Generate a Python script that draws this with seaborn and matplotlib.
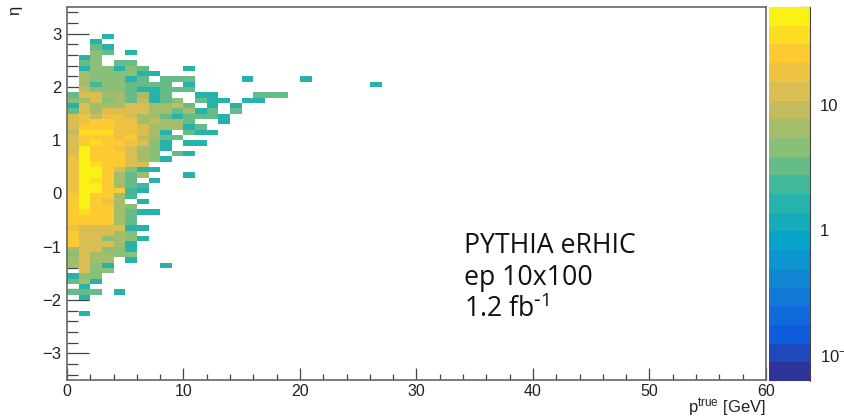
import matplotlib
matplotlib.use("Agg")
import matplotlib.pyplot as plt
from matplotlib.colors import LinearSegmentedColormap, ListedColormap, LogNorm
import numpy as np
import pandas as pd
import seaborn as sns

# ROOT "bird" palette
bird_colors = [
    (0.2082, 0.1664, 0.5293), (0.0592, 0.3599, 0.8684), (0.0780, 0.5041, 0.8385),
    (0.0232, 0.6419, 0.7914), (0.1802, 0.7178, 0.6425), (0.5301, 0.7492, 0.4662),
    (0.8186, 0.7328, 0.3499), (0.9956, 0.7862, 0.1968), (0.9764, 0.9832, 0.0539),
]

# lower edge of each eta row, in tenths, top to bottom
eta_rows = list(range(29, -24, -1))

# counts per 1 GeV pT bin, starting at pT = 0
counts = [
    [0, 0, 0, 1.5],
    [0, 0, 1.5],
    [0, 0, 3, 1.5],
    [0, 0, 4, 3, 0, 1.5],
    [0, 1.5, 4],
    [0, 3, 4, 0, 3, 3],
    [0, 1.5, 5, 4, 1.5, 4, 3, 0, 0, 0, 1.5],
    [0, 6, 4, 4, 4, 4, 1.5, 1.5],
    [0, 6, 4, 5, 5, 1.5, 3, 0, 3, 3, 3, 0, 0, 0, 0, 1.5, 0, 0, 0, 0, 1.5],
    [0, 6, 2, 5, 5, 3, 3, 3, 3, 0, 1.5, 0, 0, 0, 0, 0, 0, 0, 0, 0, 0, 0, 0, 0, 0, 0, 1.5],
    [0, 9, 5, 4, 5, 3, 1.5, 1.5, 3, 3, 3],
    [3, 11, 11, 6, 7, 3, 6, 1.5, 3, 0, 0, 1.5, 1.5, 0, 0, 0, 3, 3, 3],
    [5, 6, 11, 4, 6, 3, 10, 1.5, 3, 5, 0, 3, 1.5, 1.5, 0, 1.5, 1.5],
    [1.5, 11, 7, 6, 7, 12, 11, 6, 6, 9, 3, 0, 1.5, 0, 1.5],
    [3, 11, 6, 11, 12, 12, 12, 7, 7, 3, 6, 1.5, 3, 0, 3],
    [11, 18, 10, 18, 18, 12, 7, 6, 3, 1.5, 3, 3, 3, 1.5],
    [11, 18, 22, 22, 18, 18, 7, 10, 6, 6, 3, 0, 0, 1.5],
    [11, 22, 22, 22, 18, 18, 11, 7, 6, 6, 1.5, 3],
    [10, 32, 32, 32, 20, 20, 11, 7, 1.5, 0, 3, 1.5, 1.5],
    [11, 25, 30, 25, 20, 22, 10, 7, 3, 3],
    [12, 30, 32, 25, 22, 20, 11, 4, 1.5, 0, 1.5, 1.5],
    [15, 45, 28, 25, 20, 15, 7, 4, 1.5],
    [15, 55, 30, 25, 22, 13, 7, 4, 0, 3, 1.5],
    [20, 55, 30, 25, 22, 15, 7, 5, 1.5],
    [20, 55, 40, 28, 25, 15, 12],
    [20, 55, 50, 28, 15, 5, 1.5, 1.5],
    [20, 55, 50, 28, 7, 3, 7, 0, 0, 0, 1.5],
    [20, 48, 40, 28, 7, 3, 0, 1.5],
    [20, 55, 55, 30, 7, 3, 2],
    [20, 55, 50, 25, 25, 2, 1.5],
    [22, 55, 30, 25, 6, 2],
    [22, 50, 28, 18, 6, 0, 1.5],
    [22, 48, 30, 22, 6, 4],
    [25, 32, 30, 25, 6, 3, 1.5, 1.5],
    [25, 28, 25, 25, 7, 3],
    [22, 25, 25, 22, 7, 3],
    [18, 15, 15, 15, 13, 1.5, 1.5],
    [22, 15, 15, 12, 7, 4],
    [22, 14, 14, 5, 6, 5, 1.5],
    [22, 14, 13, 12, 6, 1.5],
    [6, 12, 12, 5, 4, 1.5],
    [4, 12, 7, 7, 4, 5],
    [6, 12, 6, 6, 0, 1.5],
    [6, 12, 5, 1.5, 0, 0, 0, 0, 1.5],
    [0, 12, 5, 5],
    [1.5, 4, 4],
    [3, 6, 1.5],
    [0, 1.5],
    [3, 3, 3, 0, 1.5],
    [0, 1.5],
    [],
    [],
    [0, 1.5],
]

x_ticks = [0, 10, 20, 30, 40, 50, 60]
x_minor = [v for v in range(0, 61, 2) if v % 10 != 0]
y_ticks = [3, 2, 1, 0, -1, -2, -3]
y_labels = ["3", "2", "1", "0", "\u22121", "\u22122", "\u22123"]
y_minor = [v / 10 for v in range(-34, 35, 2) if v % 10 != 0]
z_ticks = [0.1, 1, 10]
z_labels = ["10$^{-}$", "1", "10"]
z_minor = [0.07, 0.08, 0.09, 0.2, 0.3, 0.4, 0.5, 0.6, 0.7, 0.8, 0.9,
           2, 3, 4, 5, 6, 7, 8, 9, 20, 30, 40, 50, 60]

sns.set_style("white")
plt.rcParams["font.family"] = ["Liberation Sans", "DejaVu Sans"]
plt.rcParams["mathtext.default"] = "regular"

# full 60 x 70 grid, empty bins stay blank
grid = pd.DataFrame(counts, index=eta_rows)
grid = grid.reindex(index=range(34, -36, -1), columns=range(60))
grid = grid.replace(0, np.nan)

W, H = 845, 418
fig = plt.figure(figsize=(W / 100, H / 100), dpi=100)
ax = fig.add_axes([67 / W, 1 - 380 / H, 699 / W, 373 / H])
cax = fig.add_axes([769 / W, 1 - 381 / H, 41 / W, 374 / H])

# 20 contour bands, each sampled at its centre
smooth = LinearSegmentedColormap.from_list("bird", bird_colors, N=256)
bird = ListedColormap(smooth((np.arange(20) + 0.5) / 20))
sns.heatmap(grid, ax=ax, cbar_ax=cax, cmap=bird, norm=LogNorm(0.063, 60),
            xticklabels=False, yticklabels=False)
ax.set_xlabel("")
ax.set_ylabel("")


def eta_pos(eta):
    return (3.5 - np.asarray(eta)) * 10


line = "#444444"
text = "#222222"

for spine in ax.spines.values():
    spine.set_visible(True)
    spine.set_color("#666666")
    spine.set_linewidth(1.2)

ax.set_xticks(x_ticks)
ax.set_xticklabels(x_ticks, rotation=0)
ax.set_xticks(x_minor, minor=True)
ax.set_yticks(eta_pos(y_ticks))
ax.set_yticklabels(y_labels, rotation=0)
ax.set_yticks(eta_pos(y_minor), minor=True)
ax.tick_params(axis="x", which="major", direction="in", length=8.5, width=0.9,
               color=line, labelsize=11.5, labelcolor=text, pad=3, bottom=True)
ax.tick_params(axis="x", which="minor", direction="in", length=4, width=0.9,
               color=line, bottom=True)
ax.tick_params(axis="y", which="major", direction="in", length=15.5, width=0.9,
               color=line, labelsize=12, labelcolor=text, pad=4, left=True)
ax.tick_params(axis="y", which="minor", direction="in", length=8, width=0.9,
               color=line, left=True)

# colour bar axis on the right side
cax.yaxis.set_ticks_position("right")
cax.set_yticks(z_ticks)
cax.set_yticklabels(z_labels)
cax.set_yticks(z_minor, minor=True)
cax.set_ylim(0.063, 60)
cax.tick_params(axis="y", which="major", direction="in", length=15.5, width=0.9,
                color=line, labelsize=12, labelcolor=text, pad=7, right=True)
cax.tick_params(axis="y", which="minor", direction="in", length=8, width=0.9,
                color=line, right=True)
for side, spine in cax.spines.items():
    spine.set_visible(side == "right")
    spine.set_color("#444444")

fig.text(766 / W, 1 - 408 / H, "p$^{true}$ [GeV]", ha="right", va="center",
         fontsize=12, color=text)
fig.text(15 / W, 1 - 10 / H, "\u03b7", rotation=90, ha="center", va="center",
         fontsize=12, color=text)

for label, y_px in zip(["PYTHIA eRHIC", "ep 10x100", "1.2 fb$^{\\text{-}1}$"], [246, 278, 310]):
    fig.text(464 / W, 1 - y_px / H, label, ha="left", va="center",
             fontsize=19.2, color="#111111", family=["Open Sans", "DejaVu Sans"])

plt.savefig("out.png", dpi=100)
